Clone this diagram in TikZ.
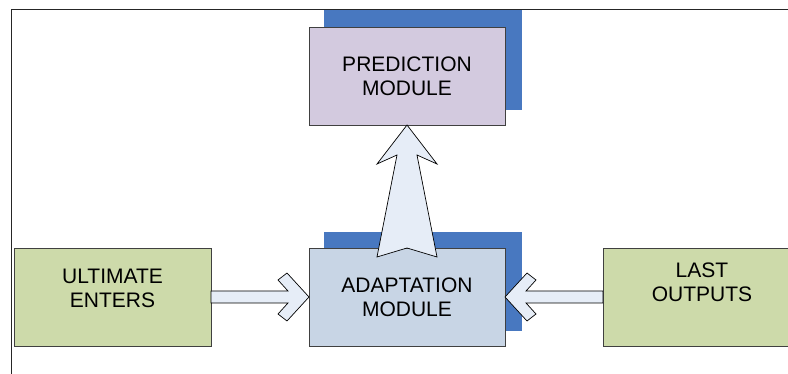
\documentclass[tikz,border=0pt]{standalone}
\usepackage{fontspec}
\setmainfont{Liberation Sans}
\usetikzlibrary{calc,backgrounds}

\definecolor{shadowblue}{HTML}{4878C0}
\definecolor{predfill}{HTML}{D3CADF}
\definecolor{adaptfill}{HTML}{C8D5E5}
\definecolor{iofill}{HTML}{CDDAAA}
\definecolor{arrowfill}{HTML}{E6EDF7}

\begin{document}
\begin{tikzpicture}[x=1pt,y=-1pt,
  every node/.style={font=\fontsize{21}{24}\selectfont,align=center},
  box/.style={draw=black!75,line width=0.8pt,inner sep=0pt,outer sep=0pt,
    minimum height=98pt},
  module/.style={box,minimum width=196pt},
  iobox/.style={box,fill=iofill,minimum width=197pt},
  fatarrow/.style={draw=black,fill=arrowfill,line width=0.7pt,line join=miter}]
  \useasboundingbox (0,0) rectangle (788,374);
  \clip (0,0) rectangle (788,374);
  % frame
  \draw[line width=1pt,black!85] (11,374) -- (11,10) -- (788,10);
  % boxes
  \node[module,fill=predfill] (pred) at (407,76) {PREDICTION\\MODULE};
  \node[module,fill=adaptfill] (adapt) at (407,297) {ADAPTATION\\MODULE};
  \node[iobox,label={[yshift=9]center:ULTIMATE\\ENTERS}] (ult) at (112.5,297) {};
  \node[iobox,minimum width=198pt,label={[yshift=15]center:LAST\\OUTPUTS}] (last) at (702,297) {};
  % shadows behind the modules
  \begin{scope}[on background layer]
    \fill[shadowblue] ($(pred.north west)+(15,-17)$) rectangle ($(pred.south east)+(17,-15)$);
    \fill[shadowblue] ($(adapt.north west)+(15,-16)$) rectangle ($(adapt.south east)+(17,-15)$);
  \end{scope}
  % block arrows
  \draw[fatarrow] ($(ult.east)+(0,-6)$) -- ($(adapt.west)+(-21,-6)$)
    -- ($(adapt.west)+(-31,-17)$) -- ($(adapt.west)+(-22,-24)$)
    -- (adapt.west)
    -- ($(adapt.west)+(-22,24)$) -- ($(adapt.west)+(-31,17)$)
    -- ($(adapt.west)+(-21,6)$) -- ($(ult.east)+(0,6)$) -- cycle;
  \draw[fatarrow] ($(last.west)+(0,-6)$) -- ($(adapt.east)+(21,-6)$)
    -- ($(adapt.east)+(31,-17)$) -- ($(adapt.east)+(22,-24)$)
    -- (adapt.east)
    -- ($(adapt.east)+(22,24)$) -- ($(adapt.east)+(31,17)$)
    -- ($(adapt.east)+(21,6)$) -- ($(last.west)+(0,6)$) -- cycle;
  \draw[fatarrow] (adapt.north) -- ($(adapt.north)+(30,9)$)
    -- ($(pred.south)+(10,30)$) -- ($(pred.south)+(30,39)$)
    -- (pred.south)
    -- ($(pred.south)+(-30,39)$) -- ($(pred.south)+(-10,30)$)
    -- ($(adapt.north)+(-30,9)$) -- cycle;
\end{tikzpicture}
\end{document}
